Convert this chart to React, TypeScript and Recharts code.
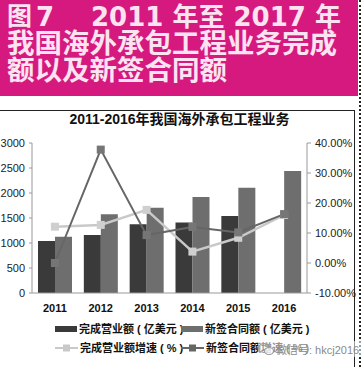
import React from "react";
import { Bar, ComposedChart, Line, XAxis, YAxis } from "recharts";

const years = ["2011", "2012", "2013", "2014", "2015", "2016"];
const revenue = [1040, 1160, 1373, 1410, 1540, null];
const newContracts = [1127, 1573, 1707, 1920, 2107, 2440];
const revenueGrowth = [12.1, 12.7, 17.7, 3.8, 8.4, 16.0];
const contractGrowth = [0, 37.8, 9.3, 12.0, 10.2, 16.3];
const leftTicks = [0, 500, 1000, 1500, 2000, 2500, 3000];
const rightTicks = [-10, 0, 10, 20, 30, 40];

const data = years.map((year, i) => ({
  year,
  revenue: revenue[i],
  newContracts: newContracts[i],
  revenueGrowth: revenueGrowth[i],
  contractGrowth: contractGrowth[i],
}));

const colors = {
  revenue: "#3a3a3a",
  newContracts: "#6e6e6e",
  revenueGrowth: "#c9c9c9",
  contractGrowth: "#666666",
};

const legendRows = [
  [
    { label: "完成营业额 ( 亿美元 )", color: colors.revenue, kind: "bar" },
    { label: "新签合同额 ( 亿美元 )", color: colors.newContracts, kind: "bar" },
  ],
  [
    { label: "完成营业额增速 ( % )", color: colors.revenueGrowth, kind: "line" },
    { label: "新签合同额增速 ( % )", color: colors.contractGrowth, kind: "line" },
  ],
];

const tickFont = { fontFamily: "'Liberation Sans', Arial, sans-serif", fontSize: 11, fill: "#222" };
const cjk = "'Liberation Sans', 'Noto Sans CJK SC', sans-serif";

function squareDot(fill: string, size: number) {
  return (props: any) => {
    const { cx, cy, index } = props;
    if (cx == null || cy == null) return <g key={index} />;
    return (
      <rect key={index} x={cx - size / 2} y={cy - size / 2} width={size} height={size} fill={fill} stroke="none" />
    );
  };
}

function LegendSwatch({ color, kind }: { color: string; kind: string }) {
  if (kind === "bar") {
    return <span style={{ display: "inline-block", width: 22, height: 6, background: color, marginRight: 2 }} />;
  }
  return (
    <svg width={23} height={10} style={{ marginRight: 2 }}>
      <line x1={0} y1={5} x2={23} y2={5} stroke={color} strokeWidth={2} />
      <rect x={8} y={1.5} width={7} height={7} fill={color} />
    </svg>
  );
}

// header lines are placed one by one, the source art is not evenly spaced
const headLine = (left: number, top: number, size: number): React.CSSProperties => ({
  position: "absolute",
  left,
  top,
  fontSize: size,
  lineHeight: "24px",
  height: 24,
  whiteSpace: "nowrap",
});

export default function App() {
  return (
    <div style={{ position: "absolute", left: 0, top: 0, width: 362, height: 367, background: "#fff", overflow: "hidden" }}>
      <div
        style={{
          position: "absolute",
          left: 0,
          top: 0,
          width: 358,
          height: 96,
          background: "#d5197f",
          color: "#fbe3f1",
          fontFamily: "'DejaVu Sans', 'Noto Sans CJK SC', sans-serif",
          fontWeight: 700,
        }}
      >
        <div style={headLine(7, 5, 25)}>图</div>
        <div style={headLine(36, 5, 26)}>7</div>
        <div style={headLine(91, 5, 26)}>2011 年至 2017 年</div>
        <div style={headLine(7, 31, 27.5)}>我国海外承包工程业务完成</div>
        <div style={headLine(7, 58, 27.5)}>额以及新签合同额</div>
      </div>
      <div style={{ position: "absolute", left: 359, top: 0, height: 367, borderLeft: "2px dotted #222" }} />
      <div style={{ position: "absolute", left: -2, top: 110, width: 355, height: 270, border: "1.5px solid #222" }} />
      <div
        style={{
          position: "absolute",
          left: 0,
          top: 110,
          width: 355,
          textAlign: "center",
          fontFamily: cjk,
          fontWeight: 700,
          fontSize: 14,
          lineHeight: "18px",
          color: "#111",
          paddingLeft: 2,
        }}
      >
        2011-2016年我国海外承包工程业务
      </div>
      <div style={{ position: "absolute", left: 0, top: 110 }}>
        <ComposedChart width={362} height={212} data={data} margin={{ top: 33, right: 0, left: 0, bottom: 0 }} barGap={0}>
          <XAxis
            dataKey="year"
            height={29}
            axisLine={{ stroke: "#999" }}
            tickLine={false}
            tick={{ ...tickFont, fontWeight: 700, fill: "#111" }}
            tickMargin={5}
          />
          <YAxis
            yAxisId="left"
            width={32}
            domain={[0, 3000]}
            ticks={leftTicks}
            axisLine={{ stroke: "#999" }}
            tickLine={{ stroke: "#999" }}
            tickSize={3}
            tick={tickFont}
            tickMargin={4}
            interval={0}
          />
          <YAxis
            yAxisId="right"
            orientation="right"
            width={55}
            domain={[-10, 40]}
            ticks={rightTicks}
            tickFormatter={(v: number) => `${v.toFixed(2)}%`}
            axisLine={{ stroke: "#999" }}
            tickLine={{ stroke: "#999" }}
            tickSize={4}
            tick={tickFont}
            tickMargin={4}
            interval={0}
          />
          <Bar yAxisId="left" dataKey="revenue" fill={colors.revenue} barSize={17} isAnimationActive={false} />
          <Bar yAxisId="left" dataKey="newContracts" fill={colors.newContracts} barSize={17} isAnimationActive={false} />
          <Line
            yAxisId="right"
            dataKey="revenueGrowth"
            stroke={colors.revenueGrowth}
            strokeWidth={2.5}
            dot={squareDot("#cfcfcf", 8)}
            isAnimationActive={false}
          />
          <Line
            yAxisId="right"
            dataKey="contractGrowth"
            stroke={colors.contractGrowth}
            strokeWidth={2}
            dot={squareDot("#767676", 8)}
            isAnimationActive={false}
          />
        </ComposedChart>
      </div>
      {legendRows.map((row, r) => (
        <div key={r} style={{ position: "absolute", left: 55, top: 321 + r * 19, height: 16 }}>
          {row.map((item, i) => (
            <div
              key={item.label}
              style={{
                position: "absolute",
                left: i * 126,
                top: 0,
                display: "flex",
                alignItems: "center",
                whiteSpace: "nowrap",
                fontFamily: cjk,
                fontWeight: 700,
                fontSize: 11,
                lineHeight: "16px",
                color: "#111",
              }}
            >
              <LegendSwatch color={item.color} kind={item.kind} />
              {item.label}
            </div>
          ))}
        </div>
      ))}
      <div
        style={{
          position: "absolute",
          left: 258,
          top: 341,
          display: "flex",
          alignItems: "center",
          whiteSpace: "nowrap",
          fontFamily: "'Liberation Sans', 'Noto Sans CJK SC', sans-serif",
          fontSize: 11,
          color: "#8a8a8a",
          background: "rgba(255,255,255,0.55)",
          paddingRight: 2,
        }}
      >
        <svg width={16} height={14} style={{ marginRight: 2 }}>
          <ellipse cx={6} cy={6} rx={5.5} ry={4.5} fill="none" stroke="#999" strokeWidth={1.1} />
          <ellipse cx={11} cy={9} rx={4.5} ry={3.5} fill="rgba(255,255,255,0.7)" stroke="#999" strokeWidth={1.1} />
        </svg>
        微信号: hkcj2016
      </div>
    </div>
  );
}
